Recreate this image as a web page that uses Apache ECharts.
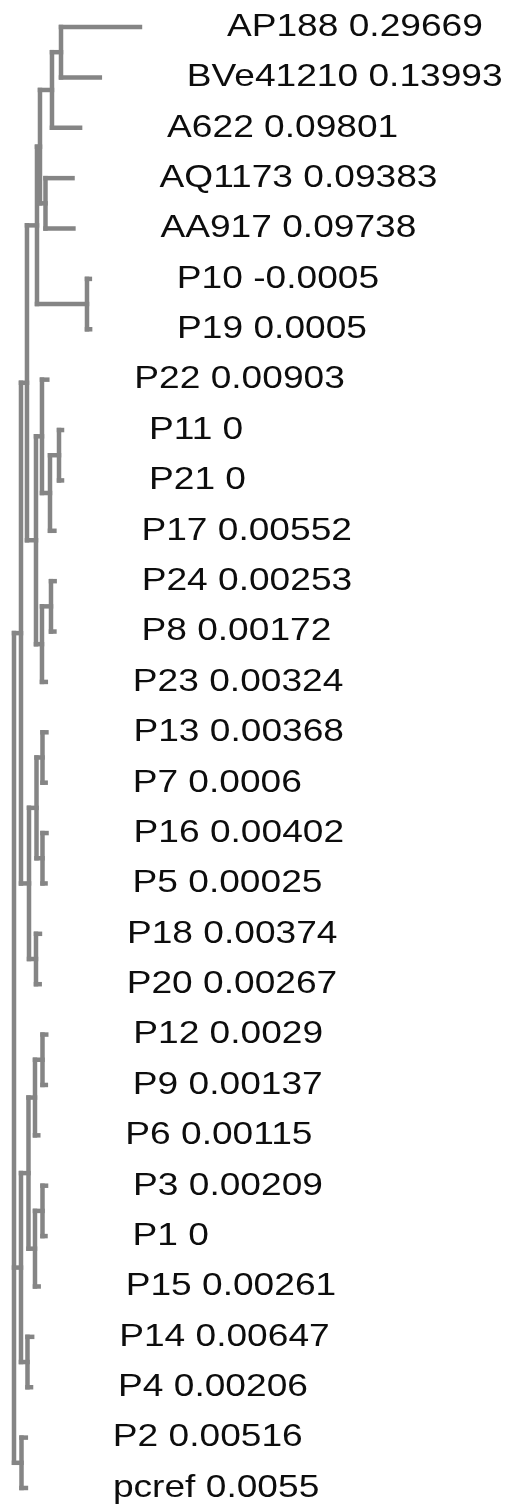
<!DOCTYPE html>
<html>
<head>
<meta charset="utf-8">
<script src="https://cdn.jsdelivr.net/npm/echarts/dist/echarts.min.js"></script>
<style>
  html, body { margin: 0; padding: 0; background: #ffffff; }
  #chart { width: 510px; height: 1504px; }
</style>
</head>
<body>
<div id="chart"></div>
<script>
// Tips, listed top to bottom, with their branch lengths and parent clade
const leafNames = ['AP188', 'BVe41210', 'A622', 'AQ1173', 'AA917', 'P10', 'P19', 'P22', 'P11', 'P21',
  'P17', 'P24', 'P8', 'P23', 'P13', 'P7', 'P16', 'P5', 'P18', 'P20',
  'P12', 'P9', 'P6', 'P3', 'P1', 'P15', 'P14', 'P4', 'P2', 'pcref'];
const leafLengths = [0.29669, 0.13993, 0.09801, 0.09383, 0.09738, -0.0005, 0.0005, 0.00903, 0, 0,
  0.00552, 0.00253, 0.00172, 0.00324, 0.00368, 0.0006, 0.00402, 0.00025, 0.00374, 0.00267,
  0.0029, 0.00137, 0.00115, 0.00209, 0, 0.00261, 0.00647, 0.00206, 0.00516, 0.0055];
const leafParents = ['c1', 'c1', 'c2', 'c3', 'c3', 'c5', 'c5', 'p3', 'p5', 'p5',
  'p4', 'p7', 'p7', 'p6', 'q2', 'q2', 'q3', 'q3', 'q4', 'q4',
  's3', 's3', 's2', 's5', 's5', 's4', 's6', 's6', 'u', 'u'];

// Internal clades: id, parent clade, branch length
const nodeIds     = ['root', 'a', 'b', 'c6', 'c4', 'c2', 'c1', 'c3', 'c5', 'p1', 'p3', 'p4', 'p5', 'p6', 'p7',
  'q', 'q1', 'q2', 'q3', 'q4', 's', 's1', 's2', 's3', 's4', 's5', 's6', 'u'];
const nodeParents = [null, 'root', 'a', 'b', 'c6', 'c4', 'c2', 'c4', 'c6', 'b', 'p1', 'p3', 'p4', 'p1', 'p6',
  'a', 'q', 'q1', 'q1', 'q', 'root', 's', 's1', 's2', 's1', 's4', 's', 'root'];
const nodeLengths = [0, 0.0273, 0.0234, 0.0391, 0.0117, 0.0469, 0.0352, 0.0215, 0.1953, 0.0352, 0.0234, 0.0313, 0.0352, 0.0234, 0.0352,
  0.0313, 0.0293, 0.0234, 0.0234, 0.0273, 0.0273, 0.0293, 0.0254, 0.0293, 0.0254, 0.0293, 0.0254, 0.0293];

// ---- layout: x = distance from root, y = tip row (internal clades centred on their children)
const nodes = {};
nodeIds.forEach((id, i) => {
  nodes[id] = { id, parent: nodeParents[i], len: nodeLengths[i], children: [] };
});
nodeIds.forEach((id) => { if (nodes[id].parent) nodes[nodes[id].parent].children.push({ kind: 'node', id }); });
leafNames.forEach((name, i) => nodes[leafParents[i]].children.push({ kind: 'leaf', idx: i }));

function nodeX(id) {
  const n = nodes[id];
  if (n.x !== undefined) return n.x;
  n.x = n.parent ? nodeX(n.parent) + n.len : 0;
  return n.x;
}
function nodeY(id) {
  const n = nodes[id];
  if (n.y !== undefined) return n.y;
  const ys = n.children.map((c) => (c.kind === 'leaf' ? c.idx : nodeY(c.id)));
  n.top = Math.min.apply(null, ys);
  n.bottom = Math.max.apply(null, ys);
  n.y = (n.top + n.bottom) / 2;
  return n.y;
}
nodeIds.forEach((id) => { nodeX(id); nodeY(id); });

// item: [x, y, parentX, spanTop, spanBottom, isLeaf]
const items = [];
const itemLabels = [];
nodeIds.forEach((id) => {
  const n = nodes[id];
  const px = n.parent ? nodes[n.parent].x : n.x;
  items.push([n.x, n.y, px, n.top, n.bottom, 0]);
  itemLabels.push('');
});
leafNames.forEach((name, i) => {
  const px = nodes[leafParents[i]].x;
  items.push([px + leafLengths[i], i, px, i, i, 1]);
  itemLabels.push(name + ' ' + String(leafLengths[i]));
});

const BRANCH = '#858585';
const TIP_TICK = 3;     // short tick so zero-length tips stay visible
const LABEL_GAP = 87;   // distance from tip end to label

const chart = echarts.init(document.getElementById('chart'), null, { renderer: 'canvas' });
chart.setOption({
  animation: false,
  backgroundColor: '#ffffff',
  grid: { left: 14, right: 0, top: 0, bottom: 0, containLabel: false },
  xAxis: { type: 'value', min: 0, max: 1.9375, show: false, splitLine: { show: false } },
  yAxis: { type: 'value', min: -0.536, max: 29.318, inverse: true, show: false, splitLine: { show: false } },
  series: [{
    type: 'custom',
    coordinateSystem: 'cartesian2d',
    clip: false,
    encode: { x: 0, y: 1 },
    data: items,
    renderItem: function (params, api) {
      const x = api.value(0), y = api.value(1), px = api.value(2);
      const top = api.value(3), bottom = api.value(4), leaf = api.value(5) === 1;
      const p = api.coord([x, y]);
      const pp = api.coord([px, y]);
      const lineStyle = { stroke: BRANCH, lineWidth: 4.5, lineCap: 'square' };
      const children = [];
      const endX = p[0] + (leaf ? TIP_TICK : 0);
      if (endX !== pp[0]) {
        children.push({ type: 'line', shape: { x1: pp[0], y1: p[1], x2: endX, y2: p[1] }, style: lineStyle });
      }
      if (!leaf) {
        const a = api.coord([x, top]);
        const b = api.coord([x, bottom]);
        children.push({ type: 'line', shape: { x1: a[0], y1: a[1], x2: b[0], y2: b[1] }, style: lineStyle });
      } else {
        children.push({
          type: 'text',
          x: endX + LABEL_GAP,
          y: p[1],
          scaleX: 1.16,
          style: {
            text: itemLabels[params.dataIndex],
            fill: '#0d0d0d',
            fontSize: 32,
            fontFamily: '"Liberation Sans", Arial, Helvetica, sans-serif',
            align: 'left',
            verticalAlign: 'middle'
          }
        });
      }
      return { type: 'group', children: children };
    }
  }]
});
</script>
</body>
</html>
